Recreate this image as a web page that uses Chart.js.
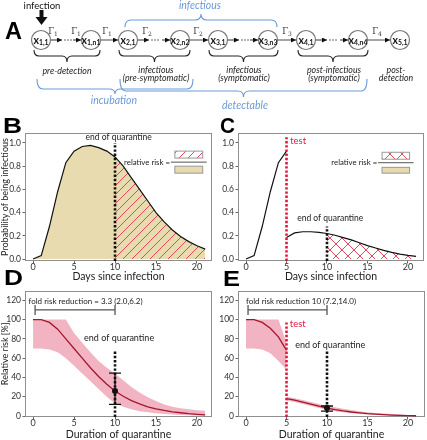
<!DOCTYPE html>
<html>
<head>
<meta charset="utf-8">
<title>Quarantine and testing</title>
<script src="https://cdn.jsdelivr.net/npm/chart.js@4.4.1/dist/chart.umd.min.js"></script>
<style>
  body { margin: 0; background: #fff; }
  #figure { position: relative; width: 427px; height: 440px; overflow: hidden; background: #fff; }
  #figure canvas { position: absolute; }
  #overlay { position: absolute; left: 0; top: 0; pointer-events: none; }
</style>
</head>
<body>
<div id="figure">
  <canvas id="chartB" width="216" height="172" style="left:0;top:112px"></canvas>
  <canvas id="chartC" width="211" height="172" style="left:216px;top:112px"></canvas>
  <canvas id="chartD" width="216" height="158" style="left:0;top:284px"></canvas>
  <canvas id="chartE" width="211" height="158" style="left:216px;top:284px"></canvas>
  <svg id="overlay" width="427" height="440"></svg>
</div>
<script>
// ---- data ----
const days = [0, 1, 2, 3, 4, 5, 6, 7, 8, 9, 10, 11, 12, 13, 14, 15, 16, 17, 18, 19, 20, 21];
const daysBeforeTest = [0, 1, 2, 3, 4, 5];
const daysAfterTest = [5, 6, 7, 8, 9, 10, 11, 12, 13, 14, 15, 16, 17, 18, 19, 20, 21];
const xTicks = [0, 5, 10, 15, 20];
const probTicks = [0, 0.2, 0.4, 0.6, 0.8, 1.0];
const riskTicks = [0, 20, 40, 60, 80, 100, 120];

const testDay = 5;
const quarantineEnd = 10;

// B: probability of being infectious (no test)
const probNoTest = [0, 0.03, 0.28, 0.58, 0.83, 0.93, 0.97, 0.98, 0.96, 0.93, 0.88, 0.80, 0.70, 0.60, 0.50, 0.40, 0.32, 0.25, 0.195, 0.15, 0.115, 0.085];
// C: test on day 5
const probBeforeTest = [0, 0.03, 0.28, 0.58, 0.83, 0.93];
const probAfterTest = [0.185, 0.225, 0.235, 0.235, 0.23, 0.22, 0.205, 0.185, 0.165, 0.14, 0.115, 0.095, 0.075, 0.057, 0.043, 0.032, 0.023];

// D: relative risk [%] vs duration of quarantine
const riskMean = [100, 100, 97, 90, 80, 70, 60, 50, 41, 33, 26, 20.5, 16, 12.5, 9.6, 7.5, 5.8, 4.4, 3.4, 2.5, 1.8, 1.2];
const riskUpper = [100, 100, 100, 100, 100, 86, 76, 66, 57, 50, 44, 37, 30, 24.5, 19.5, 15.5, 12, 9.5, 8, 7, 6, 5.5];
const riskLower = [70, 70, 69, 66, 60, 52, 44, 36, 28, 20, 13, 9.5, 7, 5, 3.8, 2.8, 2, 1.5, 1, 0.7, 0.5, 0.3];
const errD = { low: 12, mid: 26, high: 44.5 };

// E: same with a test on day 5
const riskTestMeanPre = [100, 100, 97, 91, 82, 68];
const riskTestUpperPre = [100, 100, 100, 100, 100, 76];
const riskTestLowerPre = [70, 70, 69, 65, 57, 48];
const riskTestMeanPost = [18, 16.5, 14.5, 12.3, 10.2, 8.3, 6.7, 5.3, 4.2, 3.3, 2.5, 1.9, 1.4, 1.0, 0.7, 0.5, 0.3];
const riskTestUpperPost = [20, 18.5, 16.5, 14.5, 12.5, 10.6, 9, 7.5, 6.2, 5, 4, 3.2, 2.5, 2, 1.5, 1.1, 0.8];
const riskTestLowerPost = [16, 14.5, 12.5, 10.3, 8.3, 6.5, 5, 3.9, 3, 2.3, 1.7, 1.2, 0.9, 0.6, 0.4, 0.3, 0.2];
const errE = { low: 5, mid: 8.3, high: 10.4 };

// ---- colours ----
const TAN = '#e8dbb0';
const HATCH_RED = '#e8455e';
const TEST_RED = '#e3173e';
const BAND = '#f2b4c3';
const MEAN_RED = '#a3162b';
const BLUE = '#6b9bd8';

Chart.defaults.font.family = 'Lato, "Open Sans", sans-serif';
Chart.defaults.color = '#333';

const pts = (xs, ys) => ys.map((y, i) => ({ x: xs[i], y: y }));
const vline = (x, bottom, top) => [{ x: x, y: bottom }, { x: x, y: top }];
const noLine = 'rgba(0,0,0,0)';

function makeHatch(size, cross) {
    const c = document.createElement('canvas');
    c.width = size; c.height = size;
    const g = c.getContext('2d');
    g.strokeStyle = HATCH_RED;
    g.lineWidth = 1;
    g.beginPath();
    g.moveTo(0, size); g.lineTo(size, 0);
    g.moveTo(-2, 2); g.lineTo(2, -2);
    g.moveTo(size - 2, size + 2); g.lineTo(size + 2, size - 2);
    if (cross) {
        g.moveTo(0, 0); g.lineTo(size, size);
        g.moveTo(size - 2, -2); g.lineTo(size + 2, 2);
        g.moveTo(-2, size - 2); g.lineTo(2, size + 2);
    }
    g.stroke();
    return g.createPattern(c, 'repeat');
}
const diagHatch = makeHatch(9, false);
const crossHatch = makeHatch(12, true);

// annotations per chart, in data units
const notes = {
    chartB: {
        labels: [{ x: 10.45, y: 1.05, text: 'end of quarantine', size: 8.5 }],
        fraction: { textX: 16.7, x1: 17.3, x2: 20.7, top: [0.93, 0.87], line: 0.835, bottom: [0.80, 0.74], pattern: diagHatch }
    },
    chartC: {
        labels: [
            { x: 5.45, y: 1.02, text: 'test', size: 9.5, color: TEST_RED, align: 'left' },
            { x: 10.4, y: 0.35, text: 'end of quarantine', size: 8.5 }
        ],
        fraction: { textX: 16.2, x1: 16.8, x2: 20.2, top: [0.92, 0.86], line: 0.83, bottom: [0.79, 0.74], pattern: crossHatch }
    },
    chartD: {
        labels: [
            { x: -0.55, y: 119, text: 'fold risk reduction = 3.3 (2.0,6.2)', size: 8, align: 'left' },
            { x: 10.5, y: 80.5, text: 'end of quarantine', size: 9 }
        ],
        bracket: { x1: 0.25, x2: quarantineEnd, y: 110 },
        err: { x: quarantineEnd, v: errD }
    },
    chartE: {
        labels: [
            { x: 0, y: 119, text: 'fold risk reduction 10 (7.2,14.0)', size: 8, align: 'left' },
            { x: 5.4, y: 95, text: 'test', size: 9.5, color: TEST_RED, align: 'left' },
            { x: 10.4, y: 73.5, text: 'end of quarantine', size: 9 }
        ],
        bracket: { x1: 0.25, x2: quarantineEnd, y: 110 },
        err: { x: quarantineEnd, v: errE }
    }
};

const notesPlugin = {
    id: 'notes',
    beforeDatasetsDraw(chart) {
        const a = chart.chartArea, ctx = chart.ctx;
        ctx.save();
        ctx.strokeStyle = '#8f8f8f';
        ctx.lineWidth = 1;
        ctx.strokeRect(Math.round(a.left) + 0.5, Math.round(a.top) + 0.5,
            Math.round(a.right - a.left) - 1, Math.round(a.bottom - a.top) - 1);
        ctx.restore();
    },
    afterDatasetsDraw(chart) {
        const n = notes[chart.canvas.id];
        if (!n) return;
        const ctx = chart.ctx;
        const X = v => chart.scales.x.getPixelForValue(v);
        const Y = v => chart.scales.y.getPixelForValue(v);
        ctx.save();

        if (n.bracket) {
            const b = n.bracket;
            ctx.strokeStyle = '#555';
            ctx.lineWidth = 1.3;
            ctx.beginPath();
            ctx.moveTo(X(b.x1), Y(b.y)); ctx.lineTo(X(b.x2), Y(b.y));
            ctx.moveTo(X(b.x1), Y(b.y) - 5); ctx.lineTo(X(b.x1), Y(b.y) + 5);
            ctx.moveTo(X(b.x2), Y(b.y) - 5); ctx.lineTo(X(b.x2), Y(b.y) + 5);
            ctx.stroke();
        }

        if (n.err) {
            const x = X(n.err.x), v = n.err.v;
            ctx.strokeStyle = '#111';
            ctx.lineWidth = 1.3;
            ctx.beginPath();
            ctx.moveTo(x, Y(v.low)); ctx.lineTo(x, Y(v.high));
            ctx.moveTo(x - 6, Y(v.low)); ctx.lineTo(x + 6, Y(v.low));
            ctx.moveTo(x - 6, Y(v.high)); ctx.lineTo(x + 6, Y(v.high));
            ctx.stroke();
            ctx.fillStyle = '#111';
            ctx.beginPath();
            ctx.arc(x, Y(v.mid), 3, 0, Math.PI * 2);
            ctx.fill();
        }

        if (n.fraction) {
            const f = n.fraction;
            const bx = X(f.x1), bw = X(f.x2) - X(f.x1);
            ctx.fillStyle = '#fff';
            ctx.fillRect(bx, Y(f.top[0]), bw, Y(f.top[1]) - Y(f.top[0]));
            ctx.fillStyle = f.pattern;
            ctx.fillRect(bx, Y(f.top[0]), bw, Y(f.top[1]) - Y(f.top[0]));
            ctx.fillStyle = TAN;
            ctx.fillRect(bx, Y(f.bottom[0]), bw, Y(f.bottom[1]) - Y(f.bottom[0]));
            ctx.strokeStyle = '#999';
            ctx.lineWidth = 1;
            ctx.strokeRect(bx, Y(f.top[0]), bw, Y(f.top[1]) - Y(f.top[0]));
            ctx.strokeRect(bx, Y(f.bottom[0]), bw, Y(f.bottom[1]) - Y(f.bottom[0]));
            ctx.strokeStyle = '#555';
            ctx.beginPath();
            ctx.moveTo(bx - 4, Y(f.line)); ctx.lineTo(bx + bw + 4, Y(f.line));
            ctx.stroke();
            ctx.fillStyle = '#222';
            ctx.font = '7.8px Lato, sans-serif';
            ctx.textAlign = 'right';
            ctx.textBaseline = 'middle';
            ctx.fillText('relative risk =', X(f.textX), Y(f.line));
        }

        n.labels.forEach(t => {
            ctx.font = t.size + 'px Lato, sans-serif';
            ctx.fillStyle = t.color || '#222';
            ctx.textAlign = t.align || 'center';
            ctx.textBaseline = 'middle';
            ctx.fillText(t.text, X(t.x), Y(t.y));
        });
        ctx.restore();
    }
};

function panelOptions(o) {
    const grid = { drawOnChartArea: false, tickLength: 2.5, color: '#666' };
    return {
        responsive: false,
        animation: false,
        layout: { padding: o.pad },
        elements: { point: { radius: 0 }, line: { tension: 0 } },
        plugins: { legend: { display: false }, tooltip: { enabled: false } },
        scales: {
            x: {
                type: 'linear', min: o.xMin, max: o.xMax,
                afterBuildTicks: s => { s.ticks = xTicks.map(v => ({ value: v })); },
                afterFit: s => { s.height = o.xHeight; },
                grid: grid,
                border: { display: false },
                ticks: { color: '#333', font: { size: 9, lineHeight: 1 }, padding: -1, maxRotation: 0 },
                title: { display: true, text: o.xTitle, color: '#222', font: { size: 10.5, lineHeight: 1.2 }, padding: { top: 0, bottom: 1 } }
            },
            y: {
                type: 'linear', min: o.yMin, max: o.yMax,
                afterBuildTicks: s => { s.ticks = o.yTicks.map(v => ({ value: v })); },
                afterFit: s => { s.width = o.yWidth; },
                grid: grid,
                border: { display: false },
                ticks: { color: '#333', font: { size: 8.5 }, padding: 1.5, callback: o.yFormat },
                title: { display: !!o.yTitle, text: o.yTitle || '', color: '#222', font: { size: 9, lineHeight: 1.2 }, padding: { top: 0, bottom: 0 } }
            }
        }
    };
}

const fmtProb = v => v.toFixed(1);
const fmtRisk = v => String(v);

// B
new Chart(document.getElementById('chartB'), {
    type: 'line',
    data: {
        datasets: [
            { data: vline(quarantineEnd, -0.017, 1.0), borderColor: '#111', borderWidth: 2.6, borderDash: [2.4, 1.8], fill: false, order: 0 },
            { data: pts(days, probNoTest), borderColor: '#111', borderWidth: 1.2, fill: false, order: 1 },
            { data: pts(days, probNoTest).filter(p => p.x >= quarantineEnd), borderColor: noLine, backgroundColor: diagHatch, fill: 'origin', order: 2 },
            { data: pts(days, probNoTest), borderColor: noLine, backgroundColor: TAN, fill: 'origin', order: 3 }
        ]
    },
    options: panelOptions({
        pad: { left: 0, right: 4, top: 21, bottom: 0 },
        xMin: -0.98, xMax: 21.83, xHeight: 23, xTitle: 'Days since infection',
        yMin: -0.017, yMax: 1.086, yTicks: probTicks, yWidth: 25, yFormat: fmtProb,
        yTitle: 'Probability of being infectious'
    }),
    plugins: [notesPlugin]
});

// C
new Chart(document.getElementById('chartC'), {
    type: 'line',
    data: {
        datasets: [
            { data: vline(testDay, -0.017, 1.05), borderColor: TEST_RED, borderWidth: 2.6, borderDash: [2.4, 1.8], fill: false, order: 0 },
            { data: vline(quarantineEnd, -0.017, 0.28), borderColor: '#111', borderWidth: 2.6, borderDash: [2.4, 1.8], fill: false, order: 1 },
            { data: pts(daysBeforeTest, probBeforeTest), borderColor: '#111', borderWidth: 1.2, fill: false, order: 2 },
            { data: pts(daysAfterTest, probAfterTest), borderColor: '#111', borderWidth: 1.2, fill: false, order: 2 },
            { data: pts(daysAfterTest, probAfterTest).filter(p => p.x >= quarantineEnd), borderColor: noLine, backgroundColor: crossHatch, fill: 'origin', order: 3 }
        ]
    },
    options: panelOptions({
        pad: { left: 0, right: 3, top: 21, bottom: 0 },
        xMin: -0.99, xMax: 21.98, xHeight: 23, xTitle: 'Days since infection',
        yMin: -0.017, yMax: 1.086, yTicks: probTicks, yWidth: 22, yFormat: fmtProb
    }),
    plugins: [notesPlugin]
});

// D
new Chart(document.getElementById('chartD'), {
    type: 'line',
    data: {
        datasets: [
            { data: pts(days, riskUpper), borderColor: noLine, backgroundColor: BAND, fill: '+1', order: 5 },
            { data: pts(days, riskLower), borderColor: noLine, fill: false, order: 5 },
            { data: pts(days, riskMean), borderColor: MEAN_RED, borderWidth: 1.3, fill: false, order: 2 },
            { data: vline(quarantineEnd, -1, 68), borderColor: '#111', borderWidth: 2.6, borderDash: [2.4, 1.8], fill: false, order: 1 }
        ]
    },
    options: panelOptions({
        pad: { left: 0, right: 4, top: 3, bottom: 0 },
        xMin: -0.98, xMax: 21.83, xHeight: 25, xTitle: 'Duration of quarantine',
        yMin: -1, yMax: 130, yTicks: riskTicks, yWidth: 25, yFormat: fmtRisk,
        yTitle: 'Relative risk [%]'
    }),
    plugins: [notesPlugin]
});

// E
new Chart(document.getElementById('chartE'), {
    type: 'line',
    data: {
        datasets: [
            { data: pts(daysBeforeTest, riskTestUpperPre), borderColor: noLine, backgroundColor: BAND, fill: '+1', order: 5 },
            { data: pts(daysBeforeTest, riskTestLowerPre), borderColor: noLine, fill: false, order: 5 },
            { data: pts(daysAfterTest, riskTestUpperPost), borderColor: noLine, backgroundColor: BAND, fill: '+1', order: 5 },
            { data: pts(daysAfterTest, riskTestLowerPost), borderColor: noLine, fill: false, order: 5 },
            { data: pts(daysBeforeTest, riskTestMeanPre), borderColor: MEAN_RED, borderWidth: 1.3, fill: false, order: 2 },
            { data: pts(daysAfterTest, riskTestMeanPost), borderColor: MEAN_RED, borderWidth: 1.3, fill: false, order: 2 },
            { data: vline(testDay, -1, 97), borderColor: TEST_RED, borderWidth: 2.6, borderDash: [2.4, 1.8], fill: false, order: 0 },
            { data: vline(quarantineEnd, -1, 68), borderColor: '#111', borderWidth: 2.6, borderDash: [2.4, 1.8], fill: false, order: 1 }
        ]
    },
    options: panelOptions({
        pad: { left: 0, right: 2, top: 3, bottom: 0 },
        xMin: -0.99, xMax: 22.1, xHeight: 25, xTitle: 'Duration of quarantine',
        yMin: -1, yMax: 130, yTicks: riskTicks, yWidth: 22, yFormat: fmtRisk
    }),
    plugins: [notesPlugin]
});

// ---- panel A diagram and panel letters ----
const compartments = ['1,1', '1,n1', '2,1', '2,n2', '3,1', '3,n3', '4,1', '4,n4', '5,1'];
const compX = [41, 91, 128, 180, 218, 268, 306, 358, 400];
const R = 9.5, CY = 40;
const links = [
    { from: 0, dots: true }, { from: 1 }, { from: 2, dots: true }, { from: 3 },
    { from: 4, dots: true }, { from: 5 }, { from: 6, dots: true }, { from: 7 }
];
const rates = [[53, '1'], [76, '1'], [107, '1'], [147, '2'], [198, '2'], [287, '3'], [377, '4']];

function brace(x1, x2, y, mid, tip, q) {
    const xc = (x1 + x2) / 2;
    return `M${x1},${y} Q${x1},${y + mid} ${x1 + q},${y + mid} L${xc - q},${y + mid} Q${xc},${y + mid} ${xc},${y + tip} ` +
        `Q${xc},${y + mid} ${xc + q},${y + mid} L${x2 - q},${y + mid} Q${x2},${y + mid} ${x2},${y}`;
}
const arrow = (x1, x2, color, w) =>
    `<line x1="${x1}" y1="${CY}" x2="${x2}" y2="${CY}" stroke="${color}" stroke-width="${w}" marker-end="url(#ah)"/>`;

let s = `<defs><marker id="ah" viewBox="0 0 6 6" refX="6" refY="3" markerUnits="userSpaceOnUse" markerWidth="5" markerHeight="5" orient="auto"><path d="M0,0L6,3L0,6z" fill="#111"/></marker></defs>`;

[['A', 5, 39, 24, 17], ['B', 3, 133, 22, 19], ['C', 220, 133, 22, 15], ['D', 4, 285, 22, 19], ['E', 223, 286, 22, 17]]
    .forEach(([t, x, y, f, w]) => {
        s += `<text x="${x}" y="${y}" font-family="Liberation Sans, Arial, sans-serif" font-weight="bold" font-size="${f}" textLength="${w}" lengthAdjust="spacingAndGlyphs">${t}</text>`;
    });

s += `<text x="42" y="8.5" text-anchor="middle" font-size="9.5" fill="#111">infection</text>`;
s += `<polygon points="39.5,10 43.5,10 43.5,17 47.5,17 41.5,25 35.5,17 39.5,17" fill="#111"/>`;

links.forEach(l => {
    const a = compX[l.from] + R + 0.5, b = compX[l.from + 1] - R - 0.5;
    if (l.dots) {
        s += arrow(a, a + 11, '#333', 1);
        [14, 17, 20].forEach(d => { s += `<circle cx="${a + d}" cy="${CY}" r="0.7" fill="#333"/>`; });
        s += arrow(b - 8, b, '#333', 1);
    } else {
        s += arrow(a, b, '#9a9a9a', 1.8);
    }
});
rates.forEach(([x, i]) => {
    s += `<text x="${x}" y="34" text-anchor="middle" font-family="DejaVu Serif, serif" font-size="8.5" fill="#333">Γ<tspan font-size="6" dy="1.5">${i}</tspan></text>`;
});
compartments.forEach((c, i) => {
    s += `<circle cx="${compX[i]}" cy="${CY}" r="${R}" fill="#fff" stroke="#777" stroke-width="1.2"/>`;
    s += `<text x="${compX[i]}" y="${CY + 3.5}" text-anchor="middle" font-weight="bold" font-size="10.5" fill="#111">x<tspan font-size="6.8" dy="1.8">${c}</tspan></text>`;
});

// black braces and stage names
[[34, 100], [119, 190], [209, 278], [298, 368]].forEach(([x1, x2]) => {
    s += `<path d="${brace(x1, x2, 50, 6, 12, 5)}" fill="none" stroke="#222" stroke-width="1.1"/>`;
});
const stages = [
    [67, ['pre-detection']], [156, ['infectious', '(pre-symptomatic)']], [244, ['infectious', '(symptomatic)']],
    [334, ['post-infectious', '(symptomatic)']], [396, ['post-', 'detection']]
];
stages.forEach(([x, lines]) => {
    lines.forEach((t, k) => {
        s += `<text x="${x}" y="${(lines.length === 1 ? 74 : 73) + k * 8}" text-anchor="middle" font-style="italic" font-size="8.8" fill="#222">${t}</text>`;
    });
});

// blue braces
s += `<path d="${brace(125, 277, 27, -7, -13, 6)}" fill="none" stroke="${BLUE}" stroke-width="1.1"/>`;
s += `<text x="200" y="9" text-anchor="middle" font-style="italic" font-size="10.5" fill="${BLUE}">infectious</text>`;
s += `<path d="${brace(37, 193, 79, 10, 15, 6)}" fill="none" stroke="${BLUE}" stroke-width="1.1"/>`;
s += `<text x="114" y="104" text-anchor="middle" font-style="italic" font-size="10.5" fill="${BLUE}">incubation</text>`;
s += `<path d="${brace(120, 367, 79, 12, 18, 6)}" fill="none" stroke="${BLUE}" stroke-width="1.1"/>`;
s += `<text x="245" y="109" text-anchor="middle" font-style="italic" font-size="10.5" fill="${BLUE}">detectable</text>`;

const overlay = document.getElementById('overlay');
overlay.setAttribute('font-family', 'Lato, sans-serif');
overlay.innerHTML = s;
</script>
</body>
</html>
